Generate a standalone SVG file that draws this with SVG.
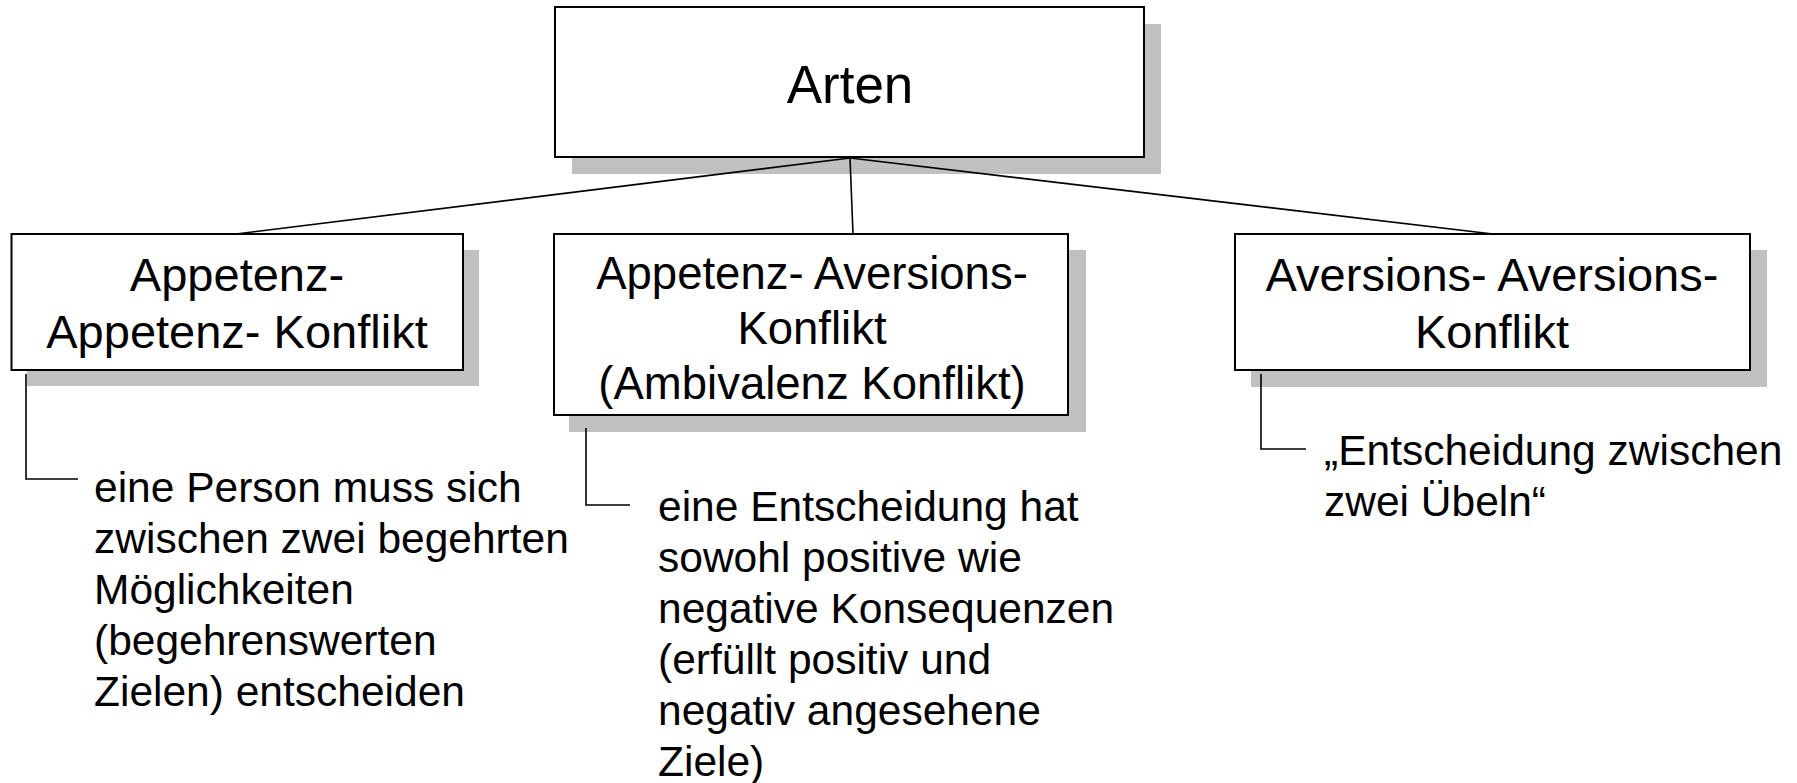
<svg xmlns="http://www.w3.org/2000/svg" width="1797" height="783" viewBox="0 0 1797 783">
  <style>
    .shadow { fill: #c0c0c0; stroke: none; }
    .box { fill: #ffffff; stroke: #000000; stroke-width: 2; }
    .label { font-family: "Liberation Sans", Arial, sans-serif; font-size: 47px; fill: #000000; text-anchor: middle; }
    .label.small { font-size: 45.5px; }
    .title { font-family: "Liberation Sans", Arial, sans-serif; font-size: 53px; fill: #000000; text-anchor: middle; }
    .note { font-family: "Liberation Sans", Arial, sans-serif; font-size: 42.5px; fill: #000000; }
    .link { fill: none; stroke: #000000; stroke-width: 1.6; }
  </style>
  <rect width="1797" height="783" fill="#ffffff"/>

  <g id="arten">
    <rect class="shadow" x="572" y="24" width="589" height="150"/>
    <rect class="box" x="555" y="7" width="589" height="150"/>
    <text class="title" x="850" y="103">Arten</text>
  </g>

  <g id="appetenz-appetenz">
    <rect class="shadow" x="27" y="250" width="452" height="136"/>
    <rect class="box" x="11.5" y="234" width="451.5" height="136"/>
    <text class="label" x="237" y="291">Appetenz-</text>
    <text class="label" x="237" y="348">Appetenz- Konflikt</text>
  </g>

  <g id="appetenz-aversions">
    <rect class="shadow" x="569" y="250" width="517" height="182"/>
    <rect class="box" x="554" y="234" width="514" height="181"/>
    <text class="label small" x="812" y="289">Appetenz- Aversions-</text>
    <text class="label small" x="812" y="344">Konflikt</text>
    <text class="label small" x="812" y="399">(Ambivalenz Konflikt)</text>
  </g>

  <g id="aversions-aversions">
    <rect class="shadow" x="1251" y="250" width="516" height="137"/>
    <rect class="box" x="1235" y="234" width="515" height="136"/>
    <text class="label" x="1492" y="291">Aversions- Aversions-</text>
    <text class="label" x="1492" y="348">Konflikt</text>
  </g>

  <g id="note-appetenz-appetenz">
    <text class="note" x="94" y="502">eine Person muss sich</text>
    <text class="note" x="94" y="553">zwischen zwei begehrten</text>
    <text class="note" x="94" y="604">Möglichkeiten</text>
    <text class="note" x="94" y="655">(begehrenswerten</text>
    <text class="note" x="94" y="706">Zielen) entscheiden</text>
  </g>

  <g id="note-appetenz-aversions">
    <text class="note" x="658" y="521">eine Entscheidung hat</text>
    <text class="note" x="658" y="572">sowohl positive wie</text>
    <text class="note" x="658" y="623">negative Konsequenzen</text>
    <text class="note" x="658" y="674">(erfüllt positiv und</text>
    <text class="note" x="658" y="725">negativ angesehene</text>
    <text class="note" x="658" y="776">Ziele)</text>
  </g>

  <g id="note-aversions-aversions">
    <text class="note" x="1324" y="465">„Entscheidung zwischen</text>
    <text class="note" x="1324" y="516">zwei Übeln“</text>
  </g>

  <!-- connectors, drawn over the box shadows -->
  <g id="connectors">
    <line class="link" x1="850" y1="158" x2="236" y2="234"/>
    <line class="link" x1="850" y1="158" x2="853" y2="234"/>
    <line class="link" x1="850" y1="158" x2="1493" y2="234"/>
    <polyline class="link" points="26,374 26,479 78,479"/>
    <polyline class="link" points="586,428 586,505 630,505"/>
    <polyline class="link" points="1261,374 1261,449 1306,449"/>
  </g>
</svg>
